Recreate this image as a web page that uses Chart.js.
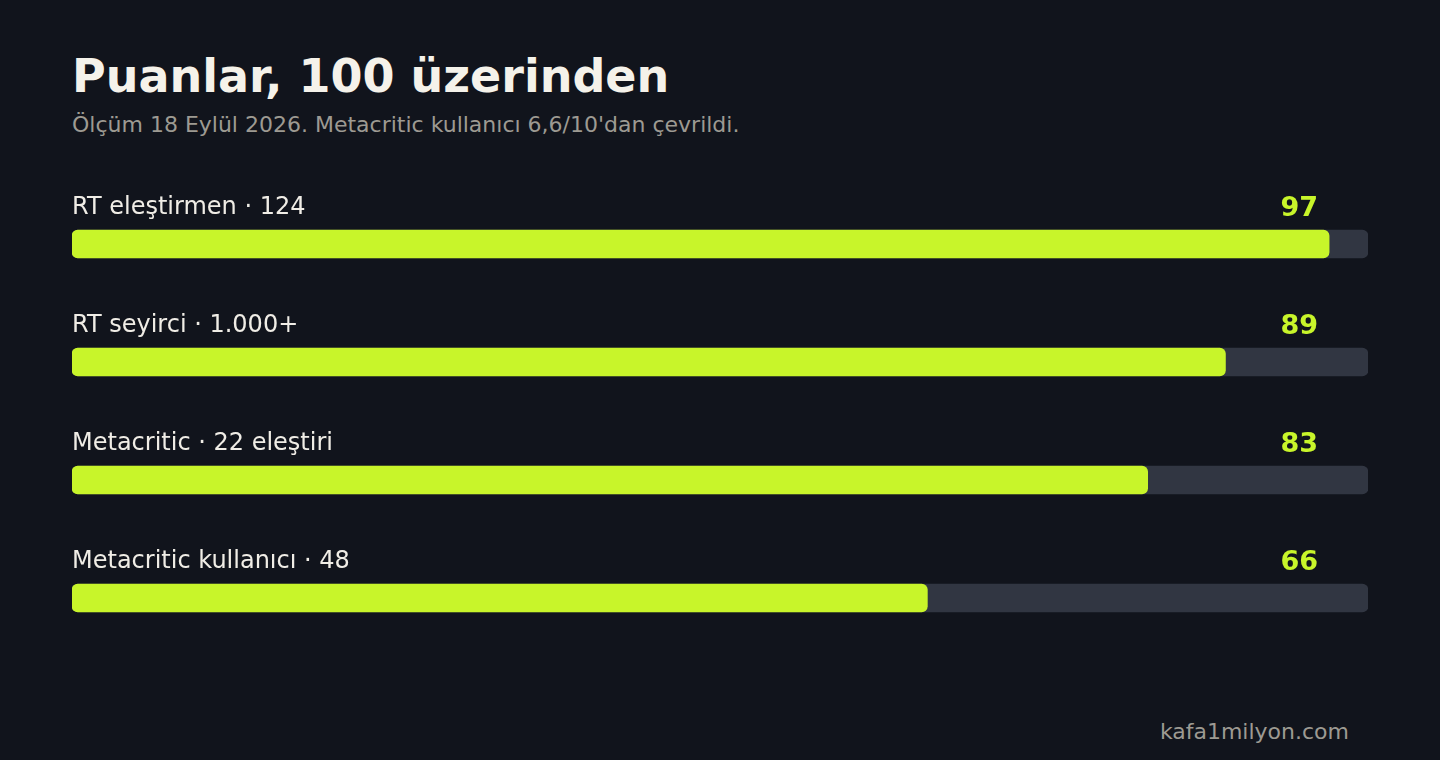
<!DOCTYPE html>
<html lang="tr">
<head>
<meta charset="utf-8">
<title>Puanlar, 100 üzerinden</title>
<script src="https://cdn.jsdelivr.net/npm/chart.js@4/dist/chart.umd.min.js"></script>
<style>
  html, body { margin:0; padding:0; background:#11141c; }
  body { width:1440px; height:760px; position:relative; overflow:hidden; font-family:"DejaVu Sans", sans-serif; }
  h1 { position:absolute; left:72px; top:53px; margin:0; font-size:46px; font-weight:bold; color:#f5f2ea; line-height:1; }
  .sub { position:absolute; left:72px; top:114px; margin:0; font-size:22px; color:#9d9a92; line-height:1; }
  .foot { position:absolute; right:91px; top:721px; font-size:22px; color:#9d9a92; line-height:1; }
  #wrap { position:absolute; left:0; top:0; width:1440px; height:760px; }
</style>
</head>
<body>
<h1>Puanlar, 100 üzerinden</h1>
<p class="sub">Ölçüm 18 Eylül 2026. Metacritic kullanıcı 6,6/10'dan çevrildi.</p>
<div class="foot">kafa1milyon.com</div>
<div id="wrap"><canvas id="scoreChart"></canvas></div>
<script>
// data
const labels = ['RT eleştirmen · 124', 'RT seyirci · 1.000+', 'Metacritic · 22 eleştiri', 'Metacritic kullanıcı · 48'];
const scores = [97, 89, 83, 66];
const maxScore = [100, 100, 100, 100];

// labels above each bar, score on the right
const barText = {
  id: 'barText',
  afterDatasetsDraw(chart) {
    const c = chart.ctx;
    const meta = chart.getDatasetMeta(0);
    c.save();
    meta.data.forEach((bar, i) => {
      const top = bar.y - bar.height / 2;
      c.textBaseline = 'alphabetic';
      c.textAlign = 'left';
      c.fillStyle = '#f0ede6';
      c.font = '24px "DejaVu Sans"';
      c.fillText(labels[i], chart.chartArea.left, top - 16);
      c.textAlign = 'right';
      c.fillStyle = '#c8f52a';
      c.font = 'bold 27px "DejaVu Sans"';
      c.fillText(String(scores[i]), chart.chartArea.right - 50, top - 14);
    });
    c.restore();
  }
};

new Chart(document.getElementById('scoreChart'), {
  type: 'bar',
  data: {
    labels,
    datasets: [
      { data: scores, backgroundColor:'#c8f52a', borderRadius:6, borderSkipped:false, barThickness:28, grouped:false },
      { data: maxScore, backgroundColor:'#313642', borderRadius:6, borderSkipped:false, barThickness:28, grouped:false }
    ]
  },
  options: {
    indexAxis: 'y',
    responsive: true,
    maintainAspectRatio: false,
    animation: false,
    layout: { padding: { left:72, right:72, top:185, bottom:103 } },
    plugins: { legend:{display:false}, tooltip:{enabled:false} },
    scales: {
      x: { display:false, min:0, max:100 },
      y: { display:false }
    }
  },
  plugins: [barText]
});
</script>
</body>
</html>
